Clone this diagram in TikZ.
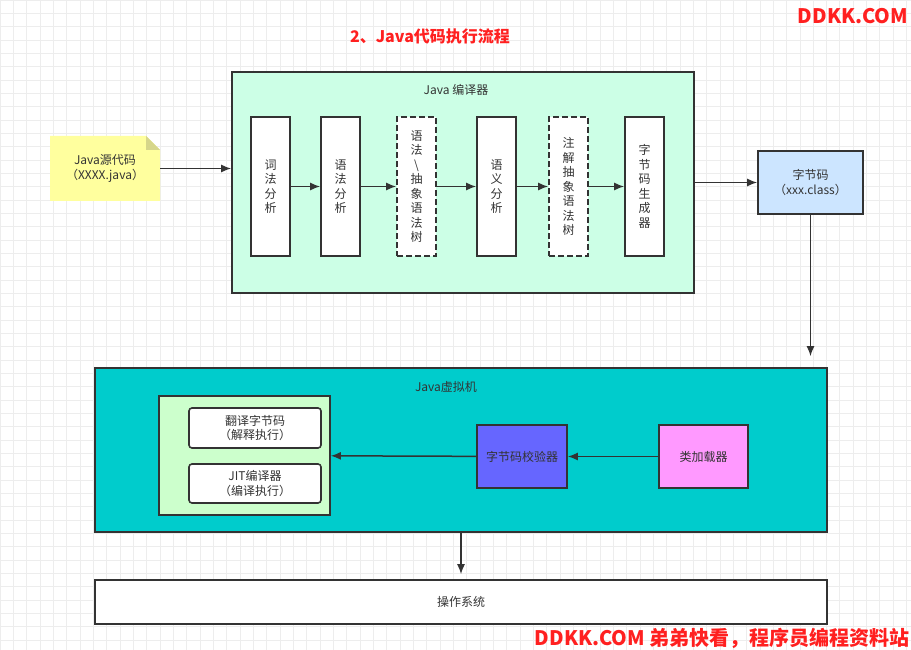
\documentclass[tikz,border=0pt]{standalone}
\usepackage{fontspec}
\setmainfont{Noto Sans CJK SC}
\usetikzlibrary{arrows.meta}
\definecolor{txtgray}{HTML}{333333}
\definecolor{linegray}{HTML}{333333}
\definecolor{gridgray}{HTML}{EDEDED}
\definecolor{ddred}{HTML}{FF2020}
\definecolor{compfill}{HTML}{CCFFE6}
\definecolor{bcfill}{HTML}{CCE5FF}
\definecolor{notefill}{HTML}{FFFF9E}
\definecolor{notefold}{HTML}{D6D68A}
\definecolor{jvmfill}{HTML}{00CCCC}
\definecolor{enginefill}{HTML}{CCFFCC}
\definecolor{verifyfill}{HTML}{6666FF}
\definecolor{loaderfill}{HTML}{FF99FF}

\begin{document}
\begin{tikzpicture}[x=1pt, y=-1pt,
  every node/.style={font=\fontsize{12}{14.5}\selectfont, text=txtgray, align=center, inner sep=0pt},
  frame/.style={draw=linegray, line width=1.6pt},
  blk/.style={frame, fill=white, minimum width=39pt, minimum height=139pt},
  dblk/.style={blk, dash pattern=on 6pt off 3pt},
  flow/.style={draw=linegray, line width=1.5pt, -{Latex[length=10pt,width=8pt]}},
  redtxt/.style={text=ddred, font=\fontsize{#1}{#1}\selectfont\bfseries}]
 \useasboundingbox (0,0) rectangle (911,650);
 \fill[white] (0,0) rectangle (911,650);
 \foreach \i in {0,13.33,...,911} \draw[gridgray, line width=0.6pt] (\i,0) -- (\i,650);
 \foreach \j in {0,13.33,...,650} \draw[gridgray, line width=0.6pt] (0,\j) -- (911,\j);

 \node[redtxt=16] (title) at (430,36) {2、Java代码执行流程};
 \node[redtxt=20] (logo) at (853,16) {DDKK.COM};
 \node[redtxt=20, anchor=east] (footer) at (910,638) {DDKK.COM 弟弟快看，程序员编程资料站};

 \fill[notefill] (50,136) -- (146,136) -- (160,150) -- (160,201) -- (50,201) -- cycle;
 \fill[notefold] (146,136) -- (160,150) -- (146,150) -- cycle;
 \node[minimum width=110pt, minimum height=65pt] (src) at (105,168.5) {Java源代码\\（XXXX.java）};

 \node[frame, fill=compfill, minimum width=462pt, minimum height=221pt] (comp) at (463,182.5) {};
 \node (complabel) at (456,90) {Java 编译器};
 \node[blk] (lex) at (270.5,186.5) {词\\法\\分\\析};
 \node[blk] (syn) at (340.5,186.5) {语\\法\\分\\析};
 \node[dblk] (ast) at (416.5,186.5) {语\\法\\\textbackslash\\抽\\象\\语\\法\\树};
 \node[blk] (sem) at (496.5,186.5) {语\\义\\分\\析};
 \node[dblk] (anno) at (568.5,186.5) {注\\解\\抽\\象\\语\\法\\树};
 \node[blk] (gen) at (644.5,186.5) {字\\节\\码\\生\\成\\器};

 \node[frame, fill=bcfill, minimum width=105pt, minimum height=63pt] (bc) at (810.5,182.5) {字节码\\（xxx.class）};

 \node[frame, fill=jvmfill, minimum width=732pt, minimum height=164pt] (jvm) at (461,450) {};
 \node (jvmlabel) at (446,387) {Java虚拟机};
 \node[frame, fill=enginefill, minimum width=171pt, minimum height=119pt] (engine) at (244.5,455.5) {};
 \node[frame, fill=white, rounded corners=3pt, minimum width=132pt, minimum height=40pt] (interp) at (255,428) {翻译字节码\\（解释执行）};
 \node[frame, fill=white, rounded corners=3pt, minimum width=132pt, minimum height=39pt] (jit) at (255,483.5) {JIT编译器\\（编译执行）};
 \node[frame, fill=verifyfill, minimum width=90pt, minimum height=63pt] (verify) at (522,456.5) {字节码校验器};
 \node[frame, fill=loaderfill, minimum width=89pt, minimum height=63pt] (loader) at (703.5,456.5) {类加载器};

 \node[frame, fill=white, minimum width=732pt, minimum height=44pt] (os) at (461,602) {操作系统};

 \draw[flow] (src.east) -- (src.east -| comp.west);
 \draw[flow] (lex) -- (syn);
 \draw[flow] (syn) -- (ast);
 \draw[flow] (ast) -- (sem);
 \draw[flow] (sem) -- (anno);
 \draw[flow] (anno) -- (gen);
 \draw[flow] (comp.east) -- (bc.west);
 \draw[flow, shorten >=11pt] (bc.south) -- (bc.south |- jvm.north);
 \draw[flow] (loader) -- (verify);
 \draw[flow] (verify) -- (engine);
 \draw[flow, shorten >=5pt] (jvm.south) -- (os.north);
\end{tikzpicture}
\end{document}
